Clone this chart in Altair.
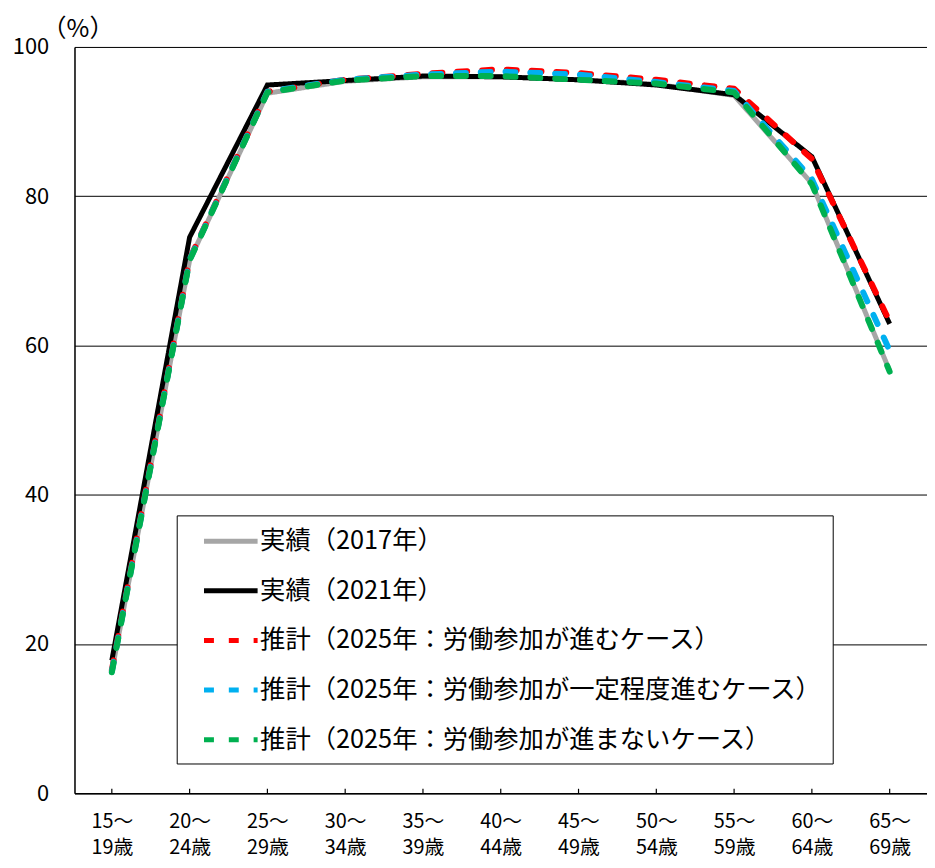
import altair as alt
import pandas as pd

ages = ["15～\n19歳", "20～\n24歳", "25～\n29歳", "30～\n34歳", "35～\n39歳", "40～\n44歳",
        "45～\n49歳", "50～\n54歳", "55～\n59歳", "60～\n64歳", "65～\n69歳"]

series_names = [
    "実績（2017年）",
    "実績（2021年）",
    "推計（2025年：労働参加が進むケース）",
    "推計（2025年：労働参加が一定程度進むケース）",
    "推計（2025年：労働参加が進まないケース）",
]

actual_2017 = [16.3, 71.4, 93.8, 95.4, 96.0, 96.0, 95.6, 95.0, 93.5, 81.7, 56.6]
actual_2021 = [17.8, 74.5, 94.9, 95.5, 96.1, 96.0, 95.6, 94.9, 93.6, 85.3, 62.9]
proj_advance = [16.5, 71.6, 94.0, 95.6, 96.4, 97.0, 96.5, 95.6, 94.4, 85.0, 63.2]
proj_partial = [16.3, 71.5, 94.0, 95.6, 96.3, 96.7, 96.3, 95.3, 94.1, 82.3, 59.3]
proj_none = [16.2, 71.4, 93.9, 95.5, 96.1, 96.1, 95.6, 95.1, 93.9, 81.6, 56.5]

colors = ["#A6A6A6", "#000000", "#FF0000", "#00B0F0", "#00B050"]
dashes = [[1, 0], [1, 0], [10, 15], [10, 15], [10, 15]]
widths = [5, 5, 6, 6, 6]

all_values = [actual_2017, actual_2021, proj_advance, proj_partial, proj_none]
rows = []
for name, vals in zip(series_names, all_values):
    for a, v in zip(ages, vals):
        rows.append({"age": a, "series": name, "value": v})
df = pd.DataFrame(rows)

FONT = "Noto Sans CJK JP"

x_scale = alt.Scale(type="point", padding=0.48)

x_enc = alt.X("age:N", sort=ages, scale=x_scale,
              axis=alt.Axis(title=None, labelExpr="split(datum.label, '\\n')",
                            labelAngle=0, labelAlign="center", labelFontSize=20,
                            labelLineHeight=27, labelPadding=28, ticks=False,
                            labelOverlap=False, labelFlush=False,
                            domainColor="black", domainWidth=1.5,
                            labelColor="black", labelFont=FONT))
y_enc = alt.Y("value:Q", scale=alt.Scale(domain=[0, 100], nice=False, zero=True),
              axis=alt.Axis(values=[0, 20, 40, 60, 80, 100], title="（%）",
                            titleAngle=0, titleX=3, titleY=-19, titleAlign="center",
                            titleBaseline="middle", titleFontSize=25,
                            titleFontWeight="normal", titleFont=FONT, titleColor="black",
                            labelFontSize=22, labelPadding=26, ticks=False,
                            grid=True, gridColor="black", gridWidth=1,
                            domainColor="black", domainWidth=1.5,
                            labelColor="black", labelFont=FONT))

color_enc = alt.Color("series:N", scale=alt.Scale(domain=series_names, range=colors),
                      legend=alt.Legend(orient="none", legendX=103, legendY=472,
                                        title=None, direction="vertical",
                                        fillColor="white", strokeColor="black",
                                        padding=10, symbolType="M-2,0H2",
                                        symbolSize=729, symbolStrokeWidth=5,
                                        labelFontSize=25.5, labelFont=FONT,
                                        labelColor="black", rowPadding=20,
                                        symbolOffset=28.5, labelOffset=13.5, labelLimit=0))
dash_enc = alt.StrokeDash("series:N", scale=alt.Scale(domain=series_names, range=dashes),
                          legend=None)

layers = []
for i, name in enumerate(series_names):
    layers.append(
        alt.Chart(df).transform_filter(alt.datum.series == name)
        .mark_line(strokeWidth=widths[i], strokeCap="round" if i >= 2 else "butt",
                   strokeJoin="round" if i >= 2 else "miter")
        .encode(x=x_enc, y=y_enc, color=color_enc, strokeDash=dash_enc)
    )

ticks = alt.Chart(pd.DataFrame({"age": ages})).mark_rule(color="black", strokeWidth=1.2).encode(
    x=alt.X("age:N", sort=ages, scale=x_scale),
    y=alt.datum(0), y2=alt.datum(0.6))

chart = alt.layer(ticks, *layers).properties(
    width=859, height=752,
    padding={"left": 67, "top": 36, "right": 0, "bottom": 64},
    autosize=alt.AutoSizeParams(type="none"),
    title=alt.TitleParams("年齢階級別労働力率（男性）", fontSize=26, font=FONT,
                          fontWeight="bold", baseline="bottom", offset=25, dx=-19,
                          color="black"),
).configure_view(stroke=None).configure(background="white")

chart.save("out.html", embed_options={"renderer": "svg", "actions": False})
